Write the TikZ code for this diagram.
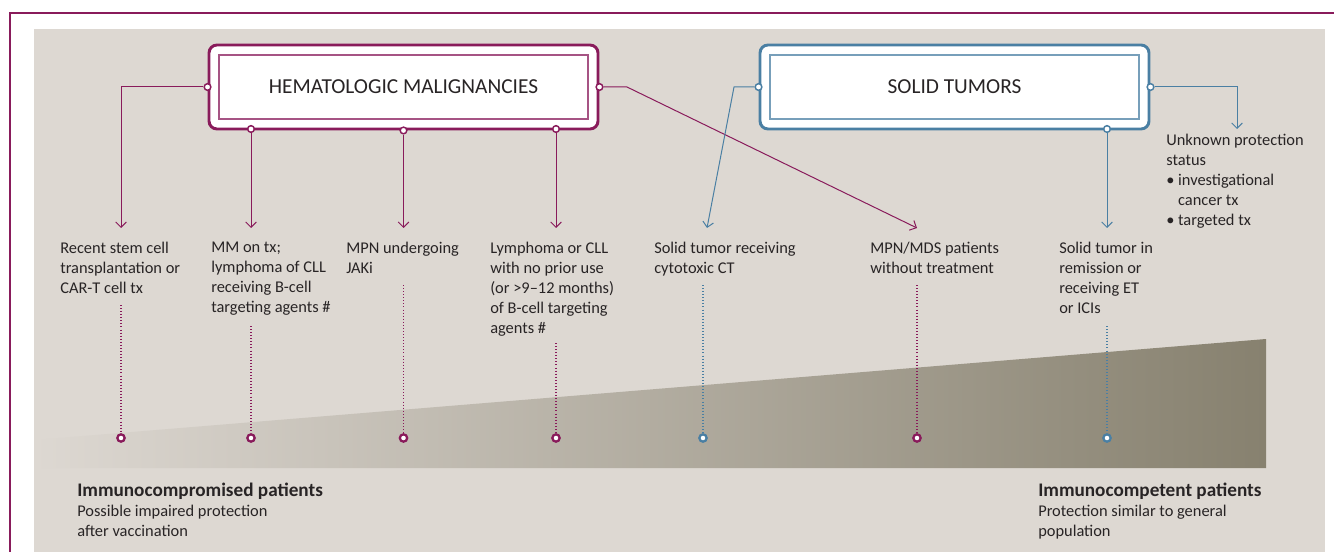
\documentclass[tikz,border=0pt]{standalone}
\usepackage{fontspec}
\setmainfont{Carlito}
\usetikzlibrary{arrows.meta}
\definecolor{panel}{RGB}{221,216,210}
\definecolor{hpurple}{RGB}{137,27,91}
\definecolor{sblue}{RGB}{74,127,163}
\definecolor{ink}{RGB}{40,36,37}
\definecolor{taupe}{RGB}{135,129,111}
\definecolor{taupemid}{RGB}{170,164,149}

\begin{document}
\begin{tikzpicture}[x=0.75pt, y=-0.75pt,
  outerbox/.style={draw, line width=2.2pt, rounded corners=6pt, fill=white, minimum width=291.75pt, minimum height=63pt},
  innerbox/.style={draw, line width=0.9pt, minimum width=276.75pt, minimum height=48pt, text=ink, font=\fontsize{16}{19}\selectfont},
  boxdot/.style={circle, draw, fill=white, line width=1.1pt, inner sep=0pt, minimum size=5pt},
  enddot/.style={circle, draw, fill=white, line width=1.7pt, inner sep=0pt, minimum size=5.5pt},
  link/.style={line width=0.75pt, -{Straight Barb[length=4pt,width=8pt]}},
  drop/.style={line width=0.8pt, dash pattern=on 0.7pt off 1.6pt},
  casetext/.style={anchor=north west, align=left, inner sep=0pt, text=ink, font=\fontsize{12.3}{15}\selectfont}]
\useasboundingbox (0,0) rectangle (1334,552);
\fill[white] (0,0) rectangle (1334,552);
\fill[panel] (34,29) rectangle (1325,552);
\draw[hpurple, line width=1.9pt] (10,552) -- (10,13) -- (1334,13);
\shade[left color=panel, middle color=taupemid, right color=taupe] (34,468) -- (34,440) -- (1266,339) -- (1266,468) -- cycle;

\node[outerbox, draw=hpurple] (hm) at (403.5,87) {};
\node[innerbox, draw=hpurple!75] (hmt) at (403.5,87) {HEMATOLOGIC MALIGNANCIES};
\node[outerbox, draw=sblue] (st) at (954.5,87) {};
\node[innerbox, draw=sblue!75] (stt) at (954.5,87) {SOLID TUMORS};

\node[boxdot, draw=hpurple] (hl) at (hm.west) {};
\node[boxdot, draw=hpurple] (hr) at (hm.east) {};
\node[boxdot, draw=hpurple] (hb1) at (251,129) {};
\node[boxdot, draw=hpurple] (hb2) at (hm.south) {};
\node[boxdot, draw=hpurple] (hb3) at (556,129) {};
\node[boxdot, draw=sblue] (sl) at (st.west) {};
\node[boxdot, draw=sblue] (sr) at (st.east) {};
\node[boxdot, draw=sblue] (sb) at (1107,129) {};

\node[casetext] (c1) at (60,242) {Recent stem cell\\transplantation or\\CAR-T cell tx};
\node[casetext] (c2) at (211,242) {MM on tx;\\lymphoma of CLL\\receiving B-cell\\targeting agents \#};
\node[casetext] (c3) at (346,242) {MPN undergoing\\JAKi};
\node[casetext] (c4) at (490,242) {Lymphoma or CLL\\with no prior use\\(or >9–12 months)\\of B-cell targeting\\agents \#};
\node[casetext] (c5) at (654,242) {Solid tumor receiving\\cytotoxic CT};
\node[casetext] (c6) at (870,242) {MPN/MDS patients\\without treatment};
\node[casetext] (c7) at (1059,242) {Solid tumor in\\remission or\\receiving ET\\or ICIs};
\node[casetext] (c8) at (1166,134) {Unknown protection\\status\\\textbullet\ investigational\\\hphantom{\textbullet\ }cancer tx\\\textbullet\ targeted tx};

\coordinate (e1) at (121,228);
\coordinate (e2) at (251,228);
\coordinate (e3) at (403.5,228);
\coordinate (e4) at (556,228);
\coordinate (e5) at (707,228);
\coordinate (e6) at (917,228);
\coordinate (e7) at (1107,228);
\coordinate (e8) at (1237,129);
\coordinate (hk) at (627,87);
\coordinate (sk) at (734,87);

\draw[link, hpurple] (hl) -| (e1);
\draw[link, hpurple] (hb1) -- (e2);
\draw[link, hpurple] (hb2) -- (e3);
\draw[link, hpurple] (hb3) -- (e4);
\draw[link, hpurple] (hr) -- (hk) -- (e6);
\draw[link, sblue] (sl) -- (sk) -- (e5);
\draw[link, sblue] (sb) -- (e7);
\draw[link, sblue] (sr) -| (e8);

\node[enddot, draw=hpurple] (d1) at (121,438) {};
\node[enddot, draw=hpurple] (d2) at (251,438) {};
\node[enddot, draw=hpurple] (d3) at (403.5,438) {};
\node[enddot, draw=hpurple] (d4) at (556,438) {};
\node[enddot, draw=sblue] (d5) at (703,438) {};
\node[enddot, draw=hpurple] (d6) at (917,438) {};
\node[enddot, draw=sblue] (d7) at (1107,438) {};

\coordinate (t1) at (121,305);
\coordinate (t2) at (251,326);
\coordinate (t3) at (403.5,285);
\coordinate (t4) at (556,343);
\coordinate (t5) at (703,285);
\coordinate (t6) at (917,285);
\coordinate (t7) at (1107,326);

\draw[drop, hpurple] (t1) -- (d1);
\draw[drop, hpurple] (t2) -- (d2);
\draw[drop, hpurple] (t3) -- (d3);
\draw[drop, hpurple] (t4) -- (d4);
\draw[drop, sblue] (t5) -- (d5);
\draw[drop, hpurple] (t6) -- (d6);
\draw[drop, sblue] (t7) -- (d7);

\node[casetext] (lo) at (77,483) {{\bfseries\fontsize{14.4}{15}\selectfont Immunocompromised patients}\\Possible impaired protection\\after vaccination};
\node[casetext] (hi) at (1038,483) {{\bfseries\fontsize{14.4}{15}\selectfont Immunocompetent patients}\\Protection similar to general\\population};
\end{tikzpicture}
\end{document}
